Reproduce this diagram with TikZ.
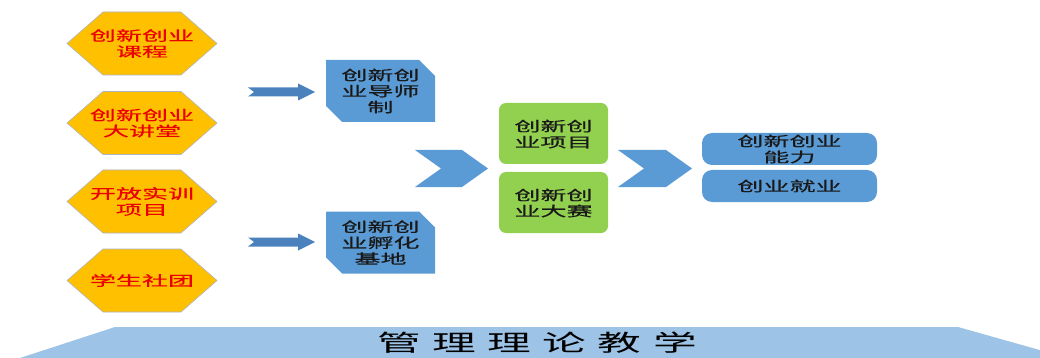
\documentclass[tikz,border=0pt]{standalone}
\usepackage{fontspec}
\usetikzlibrary{shapes.misc}
\newfontfamily\cjk[FakeStretch=1.9,FakeBold=0.6]{Noto Sans CJK SC}
\newfontfamily\cjkwide[FakeStretch=1.9,LetterSpace=50]{Noto Sans CJK SC}
\definecolor{hexcol}{RGB}{255,192,0}
\definecolor{hexline}{RGB}{170,180,195}
\definecolor{redtxt}{RGB}{235,0,0}
\definecolor{bluecol}{RGB}{91,155,213}
\definecolor{greencol}{RGB}{146,208,80}
\definecolor{basecol}{RGB}{157,195,230}
\definecolor{arrcol}{RGB}{75,130,190}
\tikzset{every picture/.style={x=1pt,y=-1pt}}
\tikzset{txt/.style={align=center,inner sep=0pt,font=\cjk\fontsize{13.7}{16}\selectfont}}
\tikzset{hexa/.style={fill=hexcol,draw=hexline,line width=.6pt}}
\tikzset{hextxt/.style={txt,text=redtxt}}
\tikzset{snipbox/.style={txt,shape=chamfered rectangle,chamfered rectangle corners={north east,south west},chamfered rectangle xsep=8pt,chamfered rectangle ysep=8pt,fill=bluecol,text=black!90,minimum width=109,minimum height=62}}
\tikzset{greenbox/.style={txt,rectangle,rounded corners=7pt,fill=greencol,text=black!90,minimum width=109,minimum height=61,text depth=0pt}}
\tikzset{resbox/.style={txt,rectangle,rounded corners=10pt,fill=bluecol,text=black!90,minimum width=175,minimum height=32}}
\tikzset{chevron/.style={fill=bluecol}}

\begin{document}
\begin{tikzpicture}
\useasboundingbox (0,0) rectangle (1040,358);

% left column
\filldraw [hexa] (67,43.5) -- ++(36,-31.5) -- ++(78,0) -- ++(36,31.5) -- ++(-36,31.5) -- ++(-78,0) -- cycle;
\filldraw [hexa] (67,123) -- ++(36,-31.5) -- ++(78,0) -- ++(36,31.5) -- ++(-36,31.5) -- ++(-78,0) -- cycle;
\filldraw [hexa] (67,201.5) -- ++(36,-31.5) -- ++(78,0) -- ++(36,31.5) -- ++(-36,31.5) -- ++(-78,0) -- cycle;
\filldraw [hexa] (67,280.5) -- ++(36,-31.5) -- ++(78,0) -- ++(36,31.5) -- ++(-36,31.5) -- ++(-78,0) -- cycle;
\node [hextxt] (course) at (142,43.5) {创新创业\\课程};
\node [hextxt] (lecture) at (142,123) {创新创业\\大讲堂};
\node [hextxt] (train) at (142,201.5) {开放实训\\项目};
\node [hextxt] (club) at (142,280.5) {学生社团};

% small arrows
\coordinate (a1) at (315,92);
\coordinate (a2) at (315,242);
\fill [arrcol] (a1) ++(-67,-4.5) -- ++(50,0) -- ++(0,-4) -- (a1) -- ++(-17,8.5) -- ++(0,-4) -- ++(-50,0) -- ++(6,-4.5) -- cycle;
\fill [arrcol] (a2) ++(-67,-4.5) -- ++(50,0) -- ++(0,-4) -- (a2) -- ++(-17,8.5) -- ++(0,-4) -- ++(-50,0) -- ++(6,-4.5) -- cycle;

\node [snipbox] (mentor) at (380.5,91) {创新创\\业导师\\制};
\node [snipbox] (incub) at (380.5,242.5) {创新创\\业孵化\\基地};

\fill [chevron] (415,150) -- (462,150) -- (488,168.5) -- (462,187) -- (415,187) -- (441,168.5) -- cycle;

\node [greenbox] (proj) at (553.5,133.5) {创新创\\业项目};
\node [greenbox] (contest) at (553.5,202.5) {创新创\\业大赛};

\fill [chevron] (618,150) -- (666,150) -- (692,168.5) -- (666,187) -- (618,187) -- (644,168.5) -- cycle;

\node [resbox] (ability) at (789.5,149) {创新创业\\能力};
\node [resbox] (employ) at (789.5,186) {创业就业};

% base
\fill [basecol] (20,358) -- (115,327) -- (958,327) -- (1068,358) -- cycle;
\node [inner sep=0pt,font=\cjkwide\fontsize{23}{25}\selectfont] (theory) at (537,343) {管理理论教学};
\end{tikzpicture}
\end{document}
